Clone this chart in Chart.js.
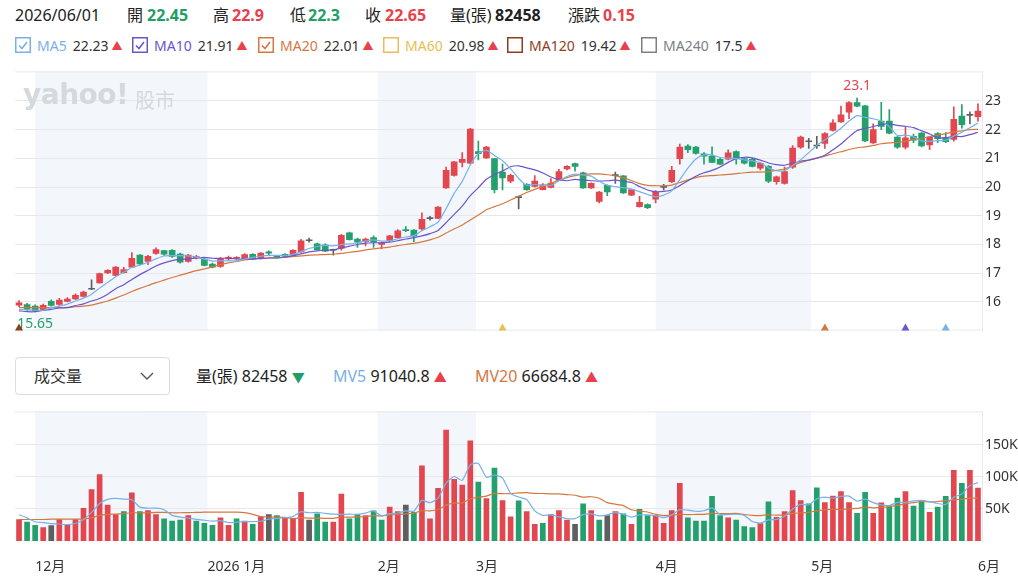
<!DOCTYPE html>
<html>
<head>
<meta charset="utf-8">
<script src="https://cdn.jsdelivr.net/npm/chart.js@4.4.1/dist/chart.umd.min.js"></script>
<style>
body { margin: 0; background: #fff; font-family: "Noto Sans", "Noto Sans CJK TC", sans-serif; color: #222; }
#wrap { position: relative; width: 1018px; height: 579px; overflow: hidden; }
.t { position: absolute; white-space: nowrap; line-height: 1; }
.g { color: #1f9e66; font-weight: 700; }
.r { color: #e8414b; font-weight: 700; }
.b { font-weight: 700; color: #222; }
.row1 { font-size: 16px; top: 7px; }
.leg { position: absolute; top: 37px; height: 16px; display: flex; align-items: center; font-size: 14px; white-space: nowrap; }
.leg svg { margin-right: 6px; }
.leg .v { color: #333; margin-left: 6px; }
.tri { font-size: 11px; margin-left: 3px; color: #e8414b; }
.row3 { font-size: 16px; top: 368px; }
#dd { position: absolute; left: 15px; top: 357px; width: 155px; height: 38px; border: 1px solid #dcdde0; border-radius: 4px; box-sizing: border-box; }
#price { position: absolute; left: 0; top: 60px; }
#vol { position: absolute; left: 0; top: 400px; }
#logo { position: absolute; left: 23px; top: 78px; font-family: "DejaVu Sans", sans-serif; font-weight: 700; font-size: 28px; color: #d5d8dc; letter-spacing: -0.5px; }
#logo2 { position: absolute; left: 135px; top: 85px; font-size: 20px; color: #d5d8dc; font-family: "Noto Sans CJK TC", sans-serif; }
</style>
</head>
<body>
<div id="wrap">
  <span class="t row1" style="left:15px">2026/06/01</span>
  <span class="t row1" style="left:127px">開</span><span class="t row1 g" style="left:147px">22.45</span>
  <span class="t row1" style="left:213px">高</span><span class="t row1 r" style="left:232px">22.9</span>
  <span class="t row1" style="left:290px">低</span><span class="t row1 g" style="left:308px">22.3</span>
  <span class="t row1" style="left:365px">收</span><span class="t row1 r" style="left:385px">22.65</span>
  <span class="t row1" style="left:450px">量(張)</span><span class="t row1 b" style="left:495px">82458</span>
  <span class="t row1" style="left:568px">漲跌</span><span class="t row1 r" style="left:603px">0.15</span>
  <div id="legend"></div>

  <canvas id="price" width="1018" height="282"></canvas>
  <div id="logo">yahoo!</div>
  <div id="logo2">股市</div>

  <div id="dd"></div>
  <span class="t row3" style="left:34px;color:#333">成交量</span>
  <svg style="position:absolute;left:140px;top:372px" width="14" height="9"><polyline points="1,1 7,7 13,1" fill="none" stroke="#555" stroke-width="1.4"/></svg>
  <span class="t row3" style="left:196px">量(張) 82458 <span style="color:#1f9e66;font-size:13px">▼</span></span>
  <span class="t row3" style="left:333px"><span style="color:#78b1e8">MV5</span> 91040.8 <span style="color:#e8414b;font-size:13px">▲</span></span>
  <span class="t row3" style="left:475px"><span style="color:#d5783f">MV20</span> 66684.8 <span style="color:#e8414b;font-size:13px">▲</span></span>

  <canvas id="vol" width="1018" height="179"></canvas>
</div>
<script>
// daily candles, 2025/11/27 .. 2026/06/01
const openP = [
  15.89, 15.91, 15.85, 15.72, 16.02, 15.91, 16.02, 16.10, 16.19, 16.44,
  16.66, 17.01, 16.92, 17.02, 17.21, 17.63, 17.41, 17.69, 17.79, 17.80,
  17.67, 17.41, 17.52, 17.49, 17.32, 17.24, 17.50, 17.52, 17.50, 17.66,
  17.52, 17.74, 17.60, 17.66, 17.63, 17.74, 18.13, 18.02, 17.99, 17.80,
  17.86, 18.41, 18.19, 18.10, 18.24, 18.00, 18.13, 18.24, 18.52, 18.50,
  18.54, 18.90, 18.91, 19.97, 20.41, 20.86, 20.83, 21.24, 21.02, 20.99,
  20.52, 20.21, 19.63, 20.10, 20.02, 19.91, 19.99, 20.24, 20.63, 20.82,
  20.50, 19.97, 19.50, 20.06, 20.40, 20.39, 19.72, 19.32, 19.39, 19.58,
  19.99, 20.19, 20.99, 21.43, 21.39, 21.16, 21.08, 20.97, 20.97, 21.24,
  20.99, 20.97, 20.66, 20.72, 20.19, 20.13, 20.69, 21.39, 21.58, 21.43,
  21.52, 21.97, 22.27, 22.61, 22.94, 22.83, 21.54, 22.30, 22.30, 21.74,
  21.39, 21.77, 21.88, 21.47, 21.86, 21.72, 21.66, 22.47, 22.50, 22.45
];
const highP = [
  16.05, 15.95, 15.90, 15.92, 16.07, 16.12, 16.15, 16.28, 16.38, 16.77,
  17.00, 17.13, 17.23, 17.20, 17.72, 17.65, 17.62, 17.88, 17.80, 17.82,
  17.70, 17.66, 17.62, 17.52, 17.35, 17.55, 17.60, 17.58, 17.68, 17.68,
  17.72, 17.78, 17.62, 17.68, 17.82, 18.18, 18.22, 18.05, 18.02, 17.84,
  18.35, 18.43, 18.22, 18.22, 18.30, 18.08, 18.32, 18.52, 18.62, 18.52,
  19.10, 18.98, 19.32, 20.70, 20.90, 21.20, 22.05, 21.60, 21.42, 21.00,
  20.80, 20.45, 19.69, 20.12, 20.40, 20.12, 20.30, 20.62, 20.75, 20.84,
  20.52, 20.15, 19.85, 20.08, 20.52, 20.40, 19.93, 19.68, 19.42, 19.88,
  20.10, 20.72, 21.50, 21.48, 21.42, 21.20, 21.40, 21.00, 21.30, 21.26,
  21.02, 21.00, 20.86, 20.75, 20.38, 20.70, 21.45, 21.78, 21.70, 21.77,
  21.90, 22.35, 22.82, 22.98, 23.10, 22.85, 22.20, 22.95, 22.70, 21.76,
  22.10, 21.85, 21.90, 21.76, 21.90, 21.90, 22.80, 22.87, 22.62, 22.90
];
const lowP = [
  15.83, 15.70, 15.65, 15.70, 15.85, 15.88, 16.00, 16.08, 16.17, 16.43,
  16.65, 16.98, 16.90, 17.00, 17.20, 17.30, 17.30, 17.65, 17.62, 17.55,
  17.35, 17.38, 17.50, 17.25, 17.18, 17.20, 17.45, 17.48, 17.48, 17.48,
  17.50, 17.60, 17.52, 17.55, 17.60, 17.72, 18.08, 17.80, 17.75, 17.63,
  17.80, 18.15, 17.90, 17.95, 17.90, 17.85, 18.10, 18.22, 18.45, 18.10,
  18.50, 18.85, 18.90, 19.95, 20.38, 20.70, 20.80, 20.95, 21.00, 19.80,
  19.90, 20.15, 19.24, 19.88, 20.00, 19.90, 19.97, 20.22, 20.60, 20.55,
  19.95, 19.95, 19.45, 19.70, 20.13, 19.78, 19.70, 19.30, 19.25, 19.45,
  19.90, 20.15, 20.80, 21.20, 21.15, 20.80, 20.85, 20.78, 20.95, 20.80,
  20.80, 20.70, 20.60, 20.15, 20.10, 20.10, 20.65, 21.35, 21.35, 21.35,
  21.35, 21.95, 22.25, 22.38, 22.80, 21.58, 21.52, 22.00, 21.85, 21.35,
  21.33, 21.55, 21.40, 21.30, 21.55, 21.55, 21.60, 22.05, 22.20, 22.30
];
const closeP = [
  15.97, 15.74, 15.69, 15.88, 15.88, 16.06, 16.10, 16.23, 16.34, 16.44,
  16.99, 17.10, 17.21, 17.13, 17.52, 17.32, 17.59, 17.82, 17.66, 17.58,
  17.38, 17.63, 17.58, 17.27, 17.21, 17.52, 17.55, 17.54, 17.65, 17.50,
  17.70, 17.70, 17.56, 17.59, 17.80, 18.13, 18.13, 17.82, 17.77, 17.80,
  18.32, 18.17, 18.08, 18.19, 18.08, 18.06, 18.30, 18.48, 18.48, 18.30,
  18.88, 18.90, 19.30, 20.58, 20.88, 20.97, 22.02, 21.16, 21.39, 19.91,
  20.32, 20.41, 19.63, 19.91, 20.21, 20.08, 20.14, 20.54, 20.72, 20.72,
  19.97, 20.13, 19.83, 19.83, 20.40, 19.80, 19.91, 19.47, 19.28, 19.83,
  19.99, 20.58, 21.39, 21.30, 21.17, 21.08, 20.86, 20.80, 21.19, 21.02,
  20.83, 20.72, 20.83, 20.21, 20.36, 20.54, 21.36, 21.74, 21.58, 21.43,
  21.86, 22.24, 22.52, 22.94, 22.82, 21.61, 22.00, 22.11, 21.88, 21.39,
  21.72, 21.63, 21.43, 21.74, 21.69, 21.58, 22.36, 22.17, 22.50, 22.65
];
const ma5 = [
  15.74, 15.72, 15.71, 15.71, 15.80, 15.85, 15.92, 16.03, 16.13, 16.27,
  16.48, 16.68, 16.88, 17.03, 17.20, 17.28, 17.38, 17.50, 17.60, 17.61,
  17.61, 17.60, 17.56, 17.49, 17.42, 17.43, 17.43, 17.43, 17.49, 17.55,
  17.59, 17.62, 17.62, 17.62, 17.66, 17.75, 17.86, 17.93, 17.97, 17.95,
  18.00, 18.02, 18.06, 18.12, 18.16, 18.12, 18.13, 18.20, 18.26, 18.31,
  18.48, 18.62, 18.78, 19.25, 19.78, 20.20, 20.77, 21.17, 21.28, 21.10,
  20.92, 20.64, 20.30, 20.06, 20.09, 20.06, 20.05, 20.22, 20.37, 20.45,
  20.42, 20.38, 20.20, 20.06, 20.02, 19.98, 19.93, 19.84, 19.74, 19.66,
  19.72, 19.87, 20.26, 20.66, 20.98, 21.12, 21.12, 21.03, 21.01, 20.99,
  20.95, 20.91, 20.85, 20.67, 20.57, 20.57, 20.75, 20.95, 21.20, 21.45,
  21.65, 21.84, 22.05, 22.30, 22.49, 22.43, 22.38, 22.30, 22.10, 21.80,
  21.81, 21.75, 21.61, 21.59, 21.62, 21.63, 21.78, 21.91, 22.07, 22.23
];
const ma10 = [
  15.69, 15.66, 15.66, 15.71, 15.74, 15.79, 15.80, 15.87, 15.93, 16.03,
  16.12, 16.27, 16.46, 16.60, 16.78, 16.95, 17.10, 17.25, 17.36, 17.44,
  17.48, 17.50, 17.53, 17.55, 17.52, 17.52, 17.52, 17.50, 17.49, 17.49,
  17.51, 17.53, 17.53, 17.56, 17.61, 17.67, 17.74, 17.78, 17.80, 17.81,
  17.88, 17.94, 18.00, 18.05, 18.06, 18.06, 18.08, 18.13, 18.19, 18.24,
  18.30, 18.38, 18.49, 18.76, 19.05, 19.34, 19.70, 19.98, 20.27, 20.44,
  20.56, 20.71, 20.74, 20.67, 20.60, 20.49, 20.35, 20.26, 20.22, 20.27,
  20.24, 20.22, 20.21, 20.22, 20.24, 20.20, 20.16, 20.02, 19.90, 19.84,
  19.85, 19.90, 20.05, 20.22, 20.38, 20.50, 20.58, 20.70, 20.86, 20.99,
  21.04, 21.02, 20.94, 20.84, 20.78, 20.76, 20.83, 20.90, 20.94, 21.01,
  21.11, 21.30, 21.50, 21.75, 21.97, 22.04, 22.11, 22.18, 22.20, 22.15,
  22.12, 22.07, 21.96, 21.85, 21.71, 21.72, 21.77, 21.76, 21.83, 21.91
];
const ma20 = [
  15.80, 15.80, 15.80, 15.80, 15.80, 15.80, 15.81, 15.83, 15.85, 15.89,
  15.96, 16.03, 16.13, 16.24, 16.36, 16.47, 16.57, 16.67, 16.76, 16.85,
  16.93, 17.01, 17.09, 17.15, 17.22, 17.30, 17.36, 17.41, 17.46, 17.50,
  17.52, 17.53, 17.54, 17.56, 17.58, 17.60, 17.63, 17.64, 17.65, 17.66,
  17.69, 17.73, 17.76, 17.81, 17.85, 17.88, 17.91, 17.96, 18.00, 18.04,
  18.09, 18.16, 18.25, 18.40, 18.54, 18.68, 18.85, 19.03, 19.21, 19.32,
  19.42, 19.55, 19.68, 19.81, 19.92, 20.02, 20.13, 20.24, 20.33, 20.40,
  20.44, 20.46, 20.46, 20.43, 20.39, 20.32, 20.23, 20.12, 20.06, 20.05,
  20.04, 20.07, 20.16, 20.25, 20.33, 20.38, 20.40, 20.42, 20.44, 20.47,
  20.50, 20.52, 20.52, 20.54, 20.58, 20.63, 20.74, 20.86, 20.94, 21.01,
  21.08, 21.16, 21.23, 21.31, 21.37, 21.40, 21.45, 21.51, 21.54, 21.56,
  21.60, 21.66, 21.70, 21.76, 21.81, 21.86, 21.92, 21.96, 22.00, 22.01
];
// volume in 張, direction vs previous close: u up, d down, f flat
const volume = [
  33500, 29500, 24500, 21000, 24000, 33500, 24500, 33500, 51000, 80000,
  103500, 56000, 41000, 46000, 75000, 46000, 47500, 41000, 34500, 31000,
  32500, 39500, 31000, 27500, 24500, 36000, 24500, 34500, 31000, 26000,
  37500, 41000, 39500, 37000, 35000, 76000, 32500, 42500, 29500, 29500,
  73000, 34500, 41000, 39500, 47000, 32500, 53000, 46000, 56000, 44500,
  117000, 34500, 82000, 173000, 96000, 87000, 156000, 92000, 66000, 113500,
  63000, 37500, 62500, 46000, 26000, 27500, 41000, 47500, 32500, 26000,
  58000, 47500, 32500, 39500, 46000, 42500, 26000, 49500, 39500, 39500,
  27500, 47500, 90000, 36000, 31000, 31000, 69500, 39500, 36000, 32500,
  22500, 21000, 27000, 61000, 37000, 46000, 78500, 63000, 58000, 83000,
  60000, 70000, 77000, 60000, 43000, 76000, 43000, 59500, 55000, 67000,
  77000, 54500, 63500, 44500, 53000, 69500, 110000, 90000, 110000, 82458
];
const volDir = [
  'u','d','d','u','f','u','u','u','u','u',
  'u','u','u','d','u','d','u','u','d','d',
  'd','u','d','d','d','u','u','d','u','d',
  'u','f','d','u','u','u','f','d','d','u',
  'u','d','d','u','d','d','u','u','f','d',
  'u','u','u','u','u','u','u','d','u','d',
  'u','u','d','u','u','d','u','u','u','f',
  'd','u','d','f','u','d','u','d','d','u',
  'u','u','u','d','d','d','d','d','u','d',
  'd','d','u','d','u','u','u','u','d','d',
  'u','u','u','u','d','d','u','u','d','d',
  'u','d','d','u','d','d','u','d','u','u'
];
const mv5 = [
  41000, 36000, 30000, 28500, 27000, 26500, 25500, 27300, 33300, 44500,
  58500, 64800, 66300, 65300, 64300, 52800, 51100, 51100, 48800, 40000,
  37300, 35700, 33700, 32300, 31000, 31700, 28700, 29400, 30100, 30400,
  30700, 34000, 35000, 36200, 38000, 45700, 44000, 44600, 43100, 42000,
  41400, 41800, 41500, 43500, 47000, 38900, 42600, 43600, 46900, 46400,
  63300, 59600, 66800, 90200, 100500, 94500, 118800, 120800, 99400, 102900,
  98100, 74400, 68500, 64500, 47000, 39900, 40600, 37600, 34900, 34900,
  41000, 42300, 39300, 40700, 44700, 41600, 37300, 40700, 40700, 39400,
  36400, 40700, 48800, 48100, 46400, 47100, 51500, 41400, 41400, 41700,
  40000, 30300, 27800, 32800, 33700, 38400, 49900, 57100, 56500, 65700,
  68500, 66800, 69600, 70000, 62000, 65200, 59800, 56300, 55300, 60100,
  60300, 62600, 63400, 61300, 58500, 57000, 68100, 73400, 86500, 91040.8
];
const mv20 = [
  33500, 33500, 33500, 33500, 34000, 34000, 34000, 34000, 34500, 36000,
  40000, 41500, 42000, 43000, 44000, 44000, 44000, 44500, 44500, 44000,
  44000, 44300, 44600, 44900, 45000, 45100, 45100, 45100, 44100, 41400,
  38100, 37400, 37300, 36900, 34900, 36400, 35600, 35700, 35400, 35400,
  37400, 37100, 37600, 38200, 39400, 39200, 40600, 41200, 42400, 43400,
  47300, 47000, 49100, 55900, 59000, 59500, 65700, 68200, 70000, 74200,
  73700, 73900, 74900, 75300, 74200, 74000, 73400, 73400, 72300, 71300,
  68400, 69000, 66600, 59900, 57400, 55200, 48700, 46500, 45200, 41500,
  39700, 40200, 41600, 41100, 41400, 41500, 43000, 42600, 42700, 43100,
  41300, 40000, 39700, 40800, 40300, 40500, 43100, 43800, 44700, 46900,
  48500, 49600, 49000, 50200, 50800, 53000, 51700, 52700, 53700, 55400,
  58100, 59800, 61600, 60800, 61600, 62800, 64000, 65000, 66800, 66684.8
];
// month ticks (bar-index position of each month start) and labels
const monthLabels = ['12月', '2026 1月', '2月', '3月', '4月', '5月', '6月'];
const monthPos = [2.0, 23.4, 44.5, 56.7, 79.0, 98.3, 119.0];
const priceTicks = [16, 17, 18, 19, 20, 21, 22, 23];
const volTicks = [50000, 100000, 150000];
// MA window start markers: MA120, MA60, MA20, MA10, MA5
const maStart = [0, 60, 100, 110, 115];

const maNames = ['MA5', 'MA10', 'MA20', 'MA60', 'MA120', 'MA240'];
const maLast = ['22.23', '21.91', '22.01', '20.98', '19.42', '17.5'];
const maOn = [true, true, true, false, false, false];

const RED = '#e2474f', GREEN = '#23a06b', GRAY = '#5f5f5f';
const GRID = '#e6e8eb', BAND = '#f3f6fa';
const MA_COLORS = ['#78b1e8', '#6a55cc', '#d5783f', '#e6be55', '#8c3e22', '#7b7f86'];
const MARK_COLORS = ['#8c3e22', '#e6be55', '#d5783f', '#6a55cc', '#78b1e8'];

// legend row
const legendX = [15, 132, 258, 383, 507, 641];
const legend = document.getElementById('legend');
maNames.forEach((n, k) => {
  const c = MA_COLORS[k];
  const check = maOn[k] ? `<polyline points="4,8.5 7,11.5 12,5" fill="none" stroke="${c}" stroke-width="1.6"/>` : '';
  legend.insertAdjacentHTML('beforeend',
    `<div class="leg" style="left:${legendX[k]}px"><svg width="16" height="16"><rect x="0.75" y="0.75" width="14.5" height="14.5" fill="none" stroke="${c}" stroke-width="1.5"/>${check}</svg>` +
    `<span style="color:${c}">${n}</span><span class="v">${maLast[k]}</span><span class="tri">▲</span></div>`);
});

Chart.defaults.font.family = '"Noto Sans", "Noto Sans CJK TC", sans-serif';
Chart.defaults.font.size = 14;
Chart.defaults.color = '#333';
Chart.defaults.animation = false;

const idx = closeP.map((_, i) => i);
const candleColor = idx.map(i => closeP[i] > openP[i] ? RED : closeP[i] < openP[i] ? GREEN : GRAY);
const volColor = volDir.map(d => d === 'u' ? RED : d === 'd' ? GREEN : GRAY);

const bandPlugin = {
  id: 'bands',
  beforeDraw(chart) {
    const { ctx, chartArea: a, scales: { x } } = chart;
    ctx.save();
    ctx.fillStyle = BAND;
    for (let m = 0; m + 1 < monthPos.length; m += 2) {
      const x0 = x.getPixelForValue(monthPos[m]);
      const x1 = x.getPixelForValue(monthPos[m + 1]);
      ctx.fillRect(x0, a.top, x1 - x0, a.bottom - a.top);
    }
    ctx.strokeStyle = GRID;
    ctx.lineWidth = 1;
    ctx.beginPath();
    ctx.moveTo(a.left, a.top + 0.5); ctx.lineTo(a.right, a.top + 0.5);
    ctx.moveTo(a.left, a.bottom - 0.5); ctx.lineTo(a.right, a.bottom - 0.5);
    ctx.stroke();
    ctx.restore();
  }
};

const markPlugin = {
  id: 'marks',
  afterDatasetsDraw(chart) {
    const { ctx, chartArea: a, scales: { x, y } } = chart;
    let hi = 0, lo = 0;
    idx.forEach(i => { if (highP[i] > highP[hi]) hi = i; if (lowP[i] < lowP[lo]) lo = i; });
    ctx.save();
    ctx.font = '14px "Noto Sans"';
    ctx.textAlign = 'center';
    ctx.fillStyle = RED;
    ctx.textBaseline = 'bottom';
    ctx.fillText(String(+highP[hi].toFixed(2)), x.getPixelForValue(hi), y.getPixelForValue(highP[hi]) - 5);
    ctx.fillStyle = GREEN;
    ctx.textBaseline = 'top';
    ctx.fillText(String(+lowP[lo].toFixed(2)), x.getPixelForValue(lo), y.getPixelForValue(lowP[lo]) + 5);
    maStart.forEach((i, k) => {
      const px = x.getPixelForValue(i);
      ctx.fillStyle = MARK_COLORS[k];
      ctx.beginPath();
      ctx.moveTo(px - 4, a.bottom);
      ctx.lineTo(px + 4, a.bottom);
      ctx.lineTo(px, a.bottom - 7);
      ctx.closePath();
      ctx.fill();
    });
    ctx.restore();
  }
};

const xBase = { type: 'linear', min: -0.5, max: 119.5, offset: false, grid: { display: false }, border: { display: false } };

function line(values, color) {
  return {
    type: 'line', data: idx.map(i => ({ x: i, y: values[i] })),
    borderColor: color, borderWidth: 1.2, pointRadius: 0, tension: 0.2, order: 0
  };
}

new Chart(document.getElementById('price'), {
  type: 'bar',
  data: {
    datasets: [
      line(ma5, MA_COLORS[0]),
      line(ma10, MA_COLORS[1]),
      line(ma20, MA_COLORS[2]),
      {
        data: idx.map(i => ({ x: i, y: [Math.min(openP[i], closeP[i]), Math.max(openP[i], closeP[i])] })),
        backgroundColor: candleColor, barThickness: 6, minBarLength: 1, grouped: false, order: 1
      },
      {
        data: idx.map(i => ({ x: i, y: [lowP[i], highP[i]] })),
        backgroundColor: candleColor, barThickness: 1, grouped: false, order: 2
      }
    ]
  },
  options: {
    responsive: false,
    layout: { padding: { left: 15, top: 8, bottom: 4, right: 0 } },
    plugins: { legend: { display: false }, tooltip: { enabled: false } },
    scales: {
      x: { ...xBase, display: false },
      y: {
        position: 'right', min: 15, max: 24.03,
        afterBuildTicks: s => { s.ticks = priceTicks.map(v => ({ value: v })); },
        afterFit: s => { s.width = 36; },
        grid: { color: GRID, drawTicks: false },
        border: { display: true, color: GRID },
        ticks: { padding: 3, color: '#333', callback: v => String(v) }
      }
    }
  },
  plugins: [bandPlugin, markPlugin]
});

new Chart(document.getElementById('vol'), {
  type: 'bar',
  data: {
    datasets: [
      line(mv5, MA_COLORS[0]),
      line(mv20, MA_COLORS[2]),
      {
        data: idx.map(i => ({ x: i, y: volume[i] })),
        backgroundColor: volColor, barThickness: 5, grouped: false, order: 1
      }
    ]
  },
  options: {
    responsive: false,
    layout: { padding: { left: 15, top: 6, bottom: 0, right: 0 } },
    plugins: { legend: { display: false }, tooltip: { enabled: false } },
    scales: {
      x: {
        ...xBase,
        afterBuildTicks: s => { s.ticks = monthPos.map(v => ({ value: v })); },
        afterFit: s => { s.height = 38; },
        ticks: { align: 'start', autoSkip: false, maxRotation: 0, padding: 10, color: '#333', callback: (v, k) => monthLabels[k] }
      },
      y: {
        position: 'right', min: 0, max: 202000,
        afterBuildTicks: s => { s.ticks = volTicks.map(v => ({ value: v })); },
        afterFit: s => { s.width = 36; },
        grid: { color: GRID, drawTicks: false },
        border: { display: true, color: GRID },
        ticks: { padding: 3, color: '#333', callback: v => (v / 1000) + 'K' }
      }
    }
  },
  plugins: [bandPlugin]
});
</script>
</body>
</html>
